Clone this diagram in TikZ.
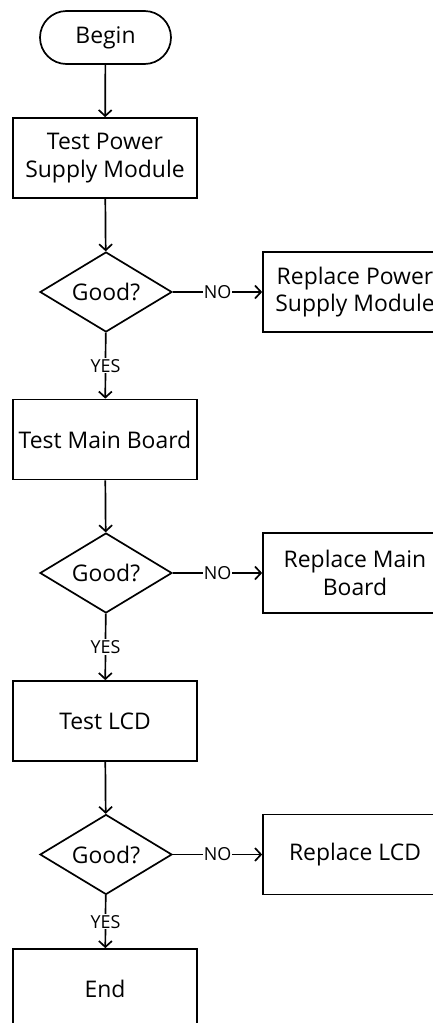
\documentclass[tikz,border=0pt]{standalone}
\usepackage{fontspec}
\setmainfont{Open Sans}
\usetikzlibrary{arrows.meta,shapes.geometric}
\begin{document}
\begin{tikzpicture}[x=1bp,y=-1bp,
  every node/.style={font=\fontsize{23}{28}\selectfont},
  terminal/.style={draw,line width=1.7bp,rounded corners=26.5bp,minimum width=131bp,minimum height=53bp,inner sep=0pt},
  procbox/.style={draw,line width=1.7bp,minimum width=184bp,minimum height=80bp,inner sep=0pt,align=center},
  decision/.style={draw,line width=1.7bp,diamond,aspect=1.65,minimum width=132bp,minimum height=80bp,inner sep=0pt},
  flow/.style={line width=1.7bp,-{Straight Barb[length=6bp,width=13bp,line width=1.7bp]}},
  lbl/.style={fill=white,inner sep=1bp,font=\fontsize{18}{20}\selectfont}]
\useasboundingbox (0,0) rectangle (432,1023);
\node[terminal] (begin) at (105.5,37.5) {Begin};
\node[procbox] (t1) at (105,158) {Test Power\\Supply Module};
\node[decision] (d1) at (106,292) {Good?};
\node[procbox] (r1) at (355,292) {Replace Power\\Supply Module};
\node[procbox] (t2) at (105,439.5) {Test Main Board};
\node[decision] (d2) at (106,573) {Good?};
\node[procbox] (r2) at (355,573) {Replace Main\\Board};
\node[procbox] (t3) at (105,721) {Test LCD};
\node[decision] (d3) at (106,854.5) {Good?};
\node[procbox] (r3) at (355,854.5) {Replace LCD};
\node[procbox] (e) at (105,989) {End};
\draw[flow] (begin) -- (t1);
\draw[flow] (t1) -- (d1);
\draw[flow] (d1) -- node[lbl]{NO} (r1);
\draw[flow] (d1) -- node[lbl]{YES} (t2);
\draw[flow] (t2) -- (d2);
\draw[flow] (d2) -- node[lbl]{NO} (r2);
\draw[flow] (d2) -- node[lbl]{YES} (t3);
\draw[flow] (t3) -- (d3);
\draw[flow] (d3) -- node[lbl]{NO} (r3);
\draw[flow] (d3) -- node[lbl]{YES} (e);
\end{tikzpicture}
\end{document}
